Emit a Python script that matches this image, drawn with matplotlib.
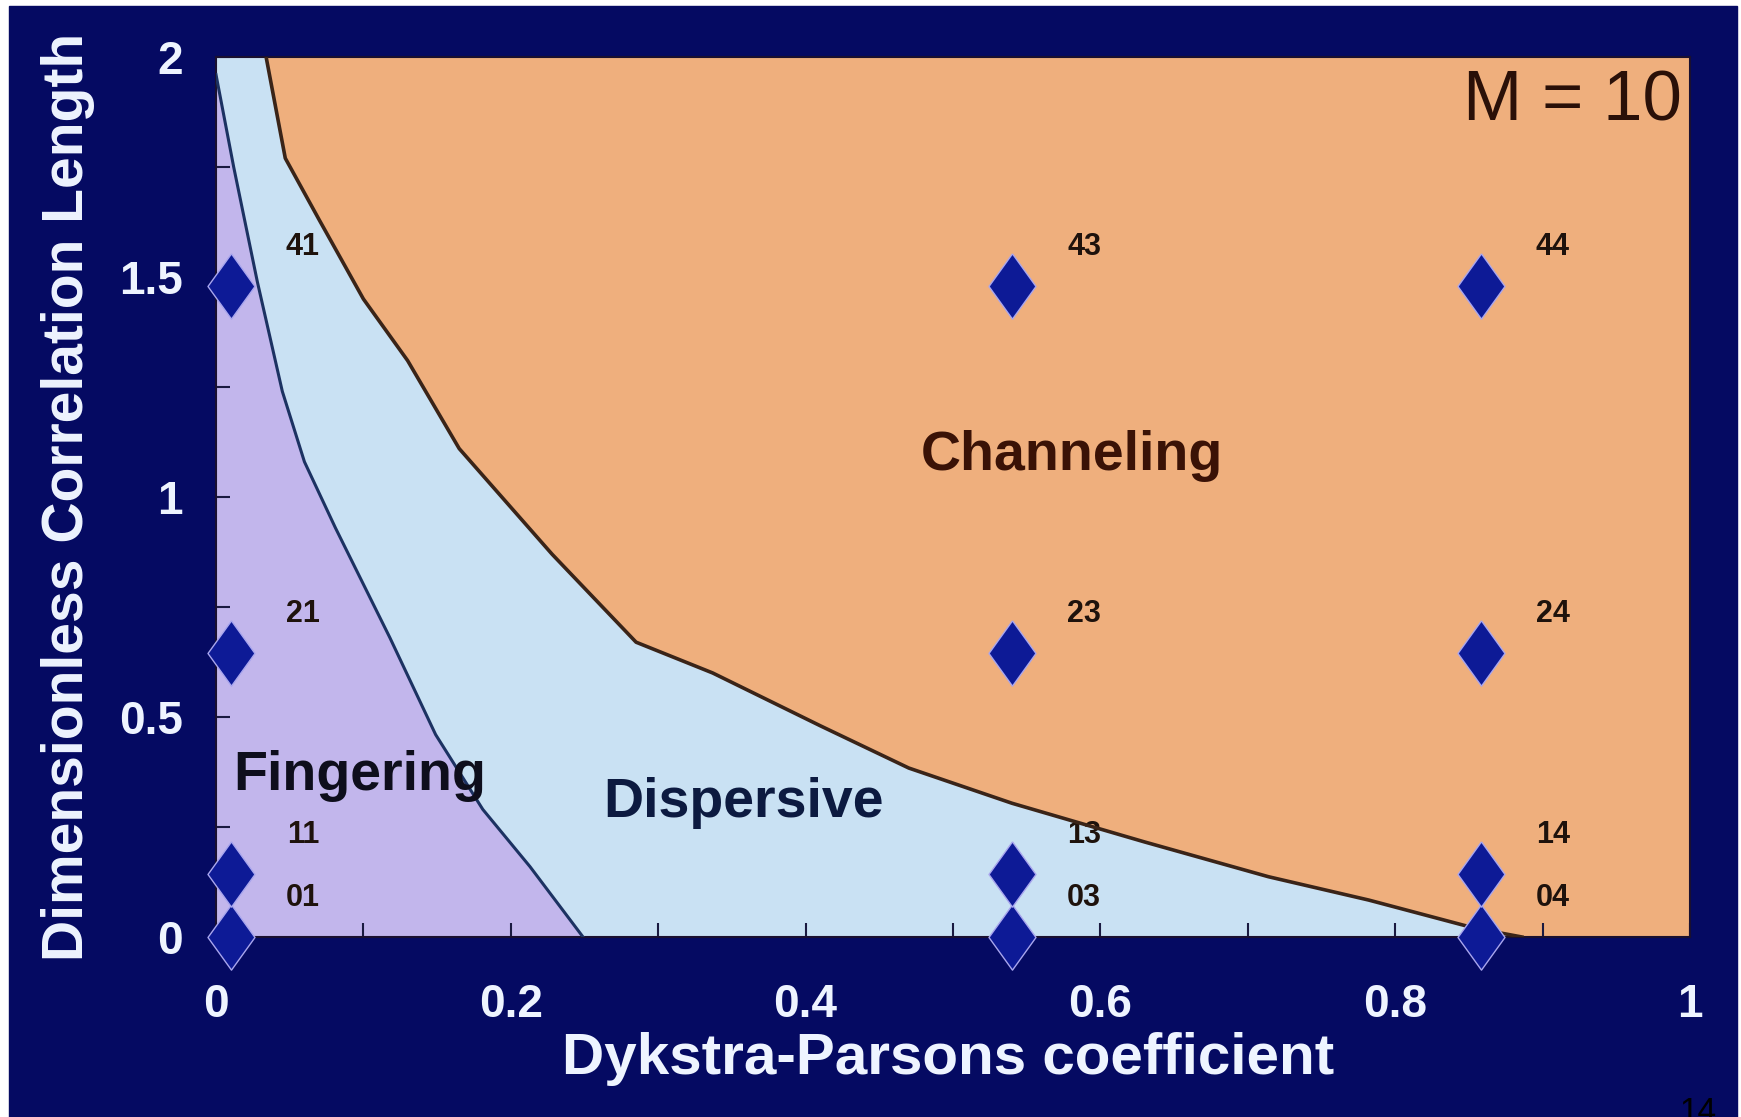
import numpy as np
import matplotlib.pyplot as plt
from matplotlib.patches import Rectangle

# boundary between fingering and dispersive regimes (VDP, lambda)
fing_x = [0.0, 0.012, 0.028, 0.045, 0.060, 0.081, 0.118, 0.149, 0.181, 0.213, 0.249]
fing_y = [1.96, 1.75, 1.49, 1.24, 1.08, 0.93, 0.68, 0.46, 0.29, 0.16, 0.0]

# boundary between dispersive and channeling regimes
chan_x = [0.034, 0.047, 0.070, 0.100, 0.130, 0.165, 0.228, 0.285, 0.337, 0.410,
          0.470, 0.540, 0.630, 0.714, 0.782, 0.854, 0.886]
chan_y = [2.0, 1.77, 1.63, 1.45, 1.31, 1.11, 0.87, 0.67, 0.600, 0.48,
          0.384, 0.304, 0.216, 0.137, 0.084, 0.02, 0.0]

# simulation cases
case_vdp = [0.01, 0.54, 0.858]
case_lam = [0.0, 0.144, 0.645, 1.48]
case_ids = [['01', '03', '04'],
            ['11', '13', '14'],
            ['21', '23', '24'],
            ['41', '43', '44']]

navy = '#050a62'
purple = '#c2b6ec'
light_blue = '#c9e1f3'
orange = '#efaf7d'
white_txt = '#eef4ff'
font = 'Liberation Sans'

fig = plt.figure(figsize=(17.41, 11.17), dpi=100, facecolor='white')
slide = Rectangle((9 / 1741, 0), 1728 / 1741, 1111 / 1117,
                  transform=fig.transFigure, color=navy, zorder=-10)
fig.add_artist(slide)

ax = fig.add_axes([216 / 1741, 180 / 1117, 1474 / 1741, 880 / 1117])
ax.set_facecolor(light_blue)
ax.set_xlim(0, 1)
ax.set_ylim(0, 2)

# regime areas
ax.fill_betweenx(fing_y, 0, fing_x, color=purple, lw=0, zorder=1)
ax.fill_between(chan_x + [1.0], chan_y + [0.0], 2, color=orange, lw=0, zorder=1)
ax.plot(fing_x, fing_y, color='#1c3262', lw=2.2, zorder=3)
ax.plot(chan_x, chan_y, color='#3a2418', lw=2.6, zorder=3)

# case markers
diamond = [(0, 1), (0.72, 0), (0, -1), (-0.72, 0), (0, 1)]
for i, lam in enumerate(case_lam):
    for j, vdp in enumerate(case_vdp):
        ax.plot(vdp, lam, marker=diamond, ms=47, color='#0d1a96',
                mec='#a9a6ee', mew=1.0, clip_on=False, zorder=4)
        ax.annotate(case_ids[i][j], (vdp, lam), xytext=(52, 28),
                    textcoords='offset points', ha='center', va='center',
                    fontsize=22, fontweight='bold', family=font,
                    color='#1e120c', zorder=2)

# regime names
ax.text(0.0115, 0.334, 'Fingering', fontsize=40, fontweight='bold',
        family=font, color='#0e0e1c', zorder=5)
ax.text(0.2625, 0.273, 'Dispersive', fontsize=40, fontweight='bold',
        family=font, color='#0c1a40', zorder=5)
ax.text(0.478, 1.061, 'Channeling', fontsize=40, fontweight='bold',
        family=font, color='#3a1206', zorder=5)
ax.text(0.9946, 0.928, 'M = 10', transform=ax.transAxes, ha='right',
        fontsize=51, family=font, color='#2a1008', zorder=5)

# axes styling
ax.set_xticks(np.arange(0, 1.01, 0.2))
ax.set_xticks(np.arange(0, 1.01, 0.1), minor=True)
ax.set_yticks(np.arange(0, 2.01, 0.5))
ax.set_yticks(np.arange(0, 2.01, 0.25), minor=True)
ax.set_xticklabels(['0', '0.2', '0.4', '0.6', '0.8', '1'])
ax.set_yticklabels(['0', '0.5', '1', '1.5', '2'])
ax.tick_params(which='both', direction='in', color='#1a1a40', length=10, width=1.5)
ax.tick_params(axis='x', which='major', pad=33)
ax.tick_params(axis='y', which='major', pad=24)
for lbl in ax.get_xticklabels() + ax.get_yticklabels():
    lbl.set_fontsize(33)
    lbl.set_fontweight('bold')
    lbl.set_family(font)
    lbl.set_color(white_txt)
for sp in ax.spines.values():
    sp.set_color('#1a1030')
    sp.set_linewidth(1.5)

ax.set_xlabel('Dykstra-Parsons coefficient', fontsize=42, fontweight='bold',
              family=font, color=white_txt)
ax.set_ylabel('Dimensionless Correlation Length', fontsize=41, fontweight='bold',
              family=font, color=white_txt)
ax.xaxis.set_label_coords(0.497, -0.108)
ax.yaxis.set_label_coords(-0.082, 0.5)

fig.text(1680 / 1741, 20 / 1117, '14', fontsize=24, family=font,
         color='black', va='top')

fig.savefig('out.png', dpi=100, facecolor=fig.get_facecolor())
